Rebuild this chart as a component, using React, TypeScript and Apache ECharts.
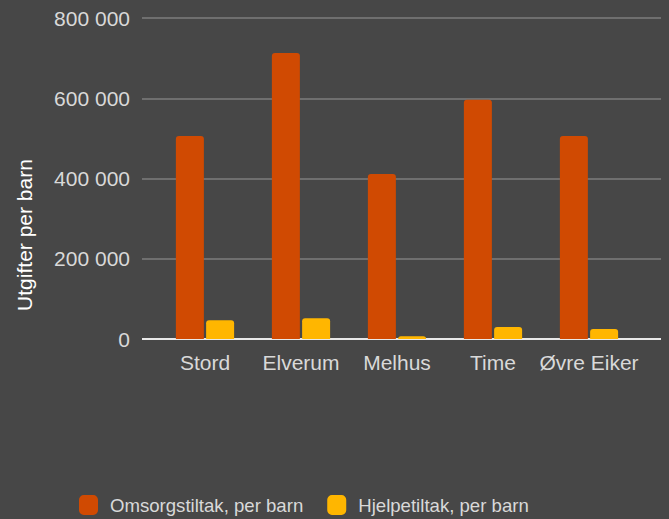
import React, { useEffect, useRef } from "react";
import * as echarts from "echarts";

const categories = ["Stord", "Elverum", "Melhus", "Time", "Øvre Eiker"];
const omsorg = [506000, 713000, 411000, 596000, 506000];
const hjelpe = [47000, 52000, 7000, 30000, 25000];
const yTicks = [0, 200000, 400000, 600000, 800000];
const seriesNames = ["Omsorgstiltak, per barn", "Hjelpetiltak, per barn"];
const yTitle = "Utgifter per barn";

const FONT = "'Liberation Sans', Arial, sans-serif";
const TEXT = "#d9d9d9";

export default function App() {
  const ref = useRef<HTMLDivElement>(null);
  useEffect(() => {
    const chart = echarts.init(ref.current!, null, { renderer: "svg" });
    const fmt = (v: number) => String(v).replace(/\B(?=(\d{3})+(?!\d))/g, " ");
    chart.setOption({
      animation: false,
      backgroundColor: "#474747",
      textStyle: { fontFamily: FONT },
      grid: [
        { left: 142, right: 8, top: 18, bottom: 180, containLabel: false },
        { left: 157, right: 32, top: 18, bottom: 180, containLabel: false },
      ],
      xAxis: [
        { type: "value", gridIndex: 0, show: false, min: 0, max: 1 },
        {
          type: "category",
          gridIndex: 1,
          data: categories,
          axisTick: { show: false },
          axisLine: { show: false },
          axisLabel: { color: TEXT, fontSize: 21, margin: 13, fontFamily: FONT, interval: 0 },
        },
      ],
      yAxis: [
        {
          type: "value",
          gridIndex: 0,
          min: yTicks[0],
          max: yTicks[yTicks.length - 1],
          interval: 200000,
          axisLine: { show: false },
          axisTick: { show: false },
          axisLabel: { color: TEXT, fontSize: 21, margin: 12, fontFamily: FONT, formatter: fmt },
          splitLine: { lineStyle: { color: "#7d7d7d", width: 1.5 } },
        },
        {
          type: "value",
          gridIndex: 1,
          min: yTicks[0],
          max: yTicks[yTicks.length - 1],
          interval: 200000,
          show: false,
          splitLine: { show: false },
        },
      ],
      legend: {
        left: 74,
        top: 490,
        itemWidth: 19,
        itemHeight: 20,
        itemGap: 24,
        icon: "roundRect",
        data: seriesNames,
        textStyle: { color: TEXT, fontSize: 18.6, fontFamily: FONT, padding: [0, 0, 0, 7] },
      },
      graphic: [
        {
          type: "text",
          x: 24,
          y: 235,
          rotation: Math.PI / 2,
          style: {
            text: yTitle,
            fill: "#ffffff",
            fontSize: 21,
            fontFamily: FONT,
            align: "center",
            verticalAlign: "middle",
          },
        },
        {
          type: "line",
          shape: { x1: 142, y1: 339, x2: 661, y2: 339 },
          style: { stroke: "#e8e8e8", lineWidth: 2 },
          z: 1,
        },
      ],
      series: [
        {
          name: seriesNames[0],
          type: "bar",
          xAxisIndex: 1,
          yAxisIndex: 1,
          data: omsorg,
          barWidth: 28,
          barGap: "8%",
          itemStyle: { color: "#d04a02", borderRadius: [3, 3, 0, 0] },
          z: 3,
        },
        {
          name: seriesNames[1],
          type: "bar",
          xAxisIndex: 1,
          yAxisIndex: 1,
          data: hjelpe,
          barWidth: 28,
          barGap: "8%",
          itemStyle: { color: "#ffb600", borderRadius: [3, 3, 0, 0] },
          z: 3,
        },
      ],
    });
    return () => chart.dispose();
  }, []);
  return <div ref={ref} style={{ width: 669, height: 519, position: "absolute", left: 0, top: 0 }} />;
}
